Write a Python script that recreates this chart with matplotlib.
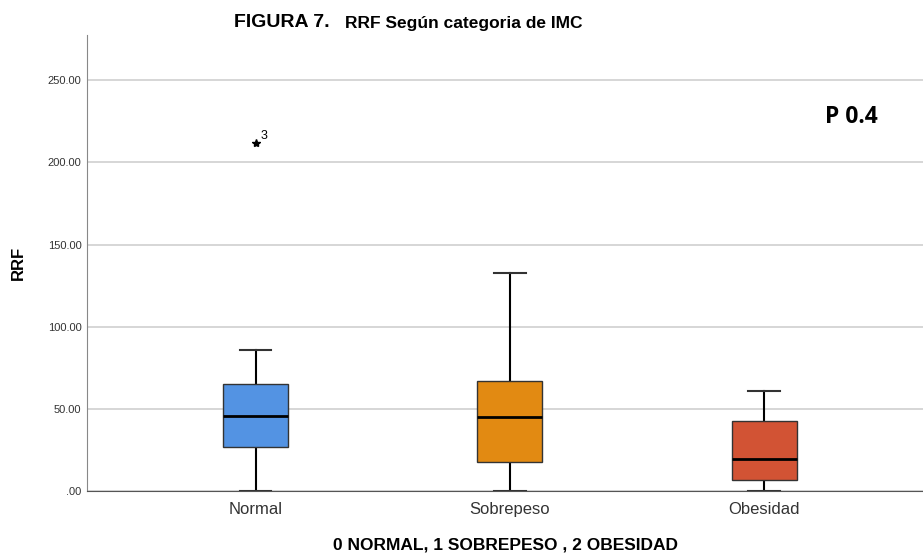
import matplotlib.pyplot as plt

plt.rcParams['font.family'] = ['Liberation Sans', 'DejaVu Sans']

categories = ['Normal', 'Sobrepeso', 'Obesidad']
whislo = [0.0, 0.0, 0.0]
q1 = [26.8, 17.6, 6.7]
med = [45.6, 45.0, 19.5]
q3 = [65.1, 66.9, 42.6]
whishi = [85.8, 132.6, 60.8]
outliers = [[211.7], [], []]
outlier_ids = [['3'], [], []]
colors = ['#5393E3', '#E28A12', '#D25334']
yticks = [0, 50, 100, 150, 200, 250]
ytick_labels = ['.00', '50.00', '100.00', '150.00', '200.00', '250.00']

stats = []
for i, name in enumerate(categories):
    stats.append(dict(label=name, whislo=whislo[i], q1=q1[i], med=med[i],
                      q3=q3[i], whishi=whishi[i], fliers=[]))

fig = plt.figure(figsize=(9.23, 5.56), dpi=100)
ax = fig.add_axes([0.0943, 0.1169, 0.9057, 0.8201])

pos = list(range(len(categories)))
bp = ax.bxp(stats, positions=pos, widths=0.255, patch_artist=True,
            showfliers=False,
            boxprops=dict(edgecolor='#333333', linewidth=1.0),
            medianprops=dict(color='black', linewidth=2.0),
            whiskerprops=dict(color='black', linewidth=1.5),
            capprops=dict(color='#333333', linewidth=1.5),
            capwidths=0.125)
for patch, c in zip(bp['boxes'], colors):
    patch.set_facecolor(c)
for w in bp['whiskers']:
    w.set_zorder(1)

# outliers marked with a star and case number
for i in pos:
    for v, lab in zip(outliers[i], outlier_ids[i]):
        ax.plot(i, v, marker='*', color='black', markersize=6, zorder=3)
        ax.text(i + 0.02, v + 2.5, lab, fontsize=9, color='black')

ax.set_xlim(-0.663, 2.625)
ax.set_ylim(0, 277.5)
ax.set_yticks(yticks)
ax.set_yticklabels(ytick_labels, fontsize=8, color='#333333')
ax.set_xticks(pos)
ax.set_xticklabels(categories, fontsize=12, color='#333333')
ax.tick_params(length=0, pad=4)
ax.tick_params(axis='x', pad=8)
ax.grid(axis='y', color='#d0d0d0', linewidth=1.2)
ax.set_axisbelow(True)
for s in ['top', 'right']:
    ax.spines[s].set_visible(False)
ax.spines['left'].set_color('#888888')
ax.spines['bottom'].set_color('#555555')

ax.set_ylabel('RRF', fontsize=12, fontweight='bold', labelpad=16)
ax.set_xlabel('0 NORMAL, 1 SOBREPESO , 2 OBESIDAD', fontsize=12.5, fontweight='bold', labelpad=15)

fig.text(0.253, 0.96, 'FIGURA 7.', fontsize=14, fontweight='bold', va='center')
fig.text(0.374, 0.958, 'RRF Según categoria de IMC', fontsize=12.5, fontweight='bold', va='center')
fig.text(0.894, 0.79, 'P 0.4', fontsize=16.5, fontweight='bold', va='center', family=['Open Sans', 'DejaVu Sans'])

fig.savefig('out.png', dpi=100)
